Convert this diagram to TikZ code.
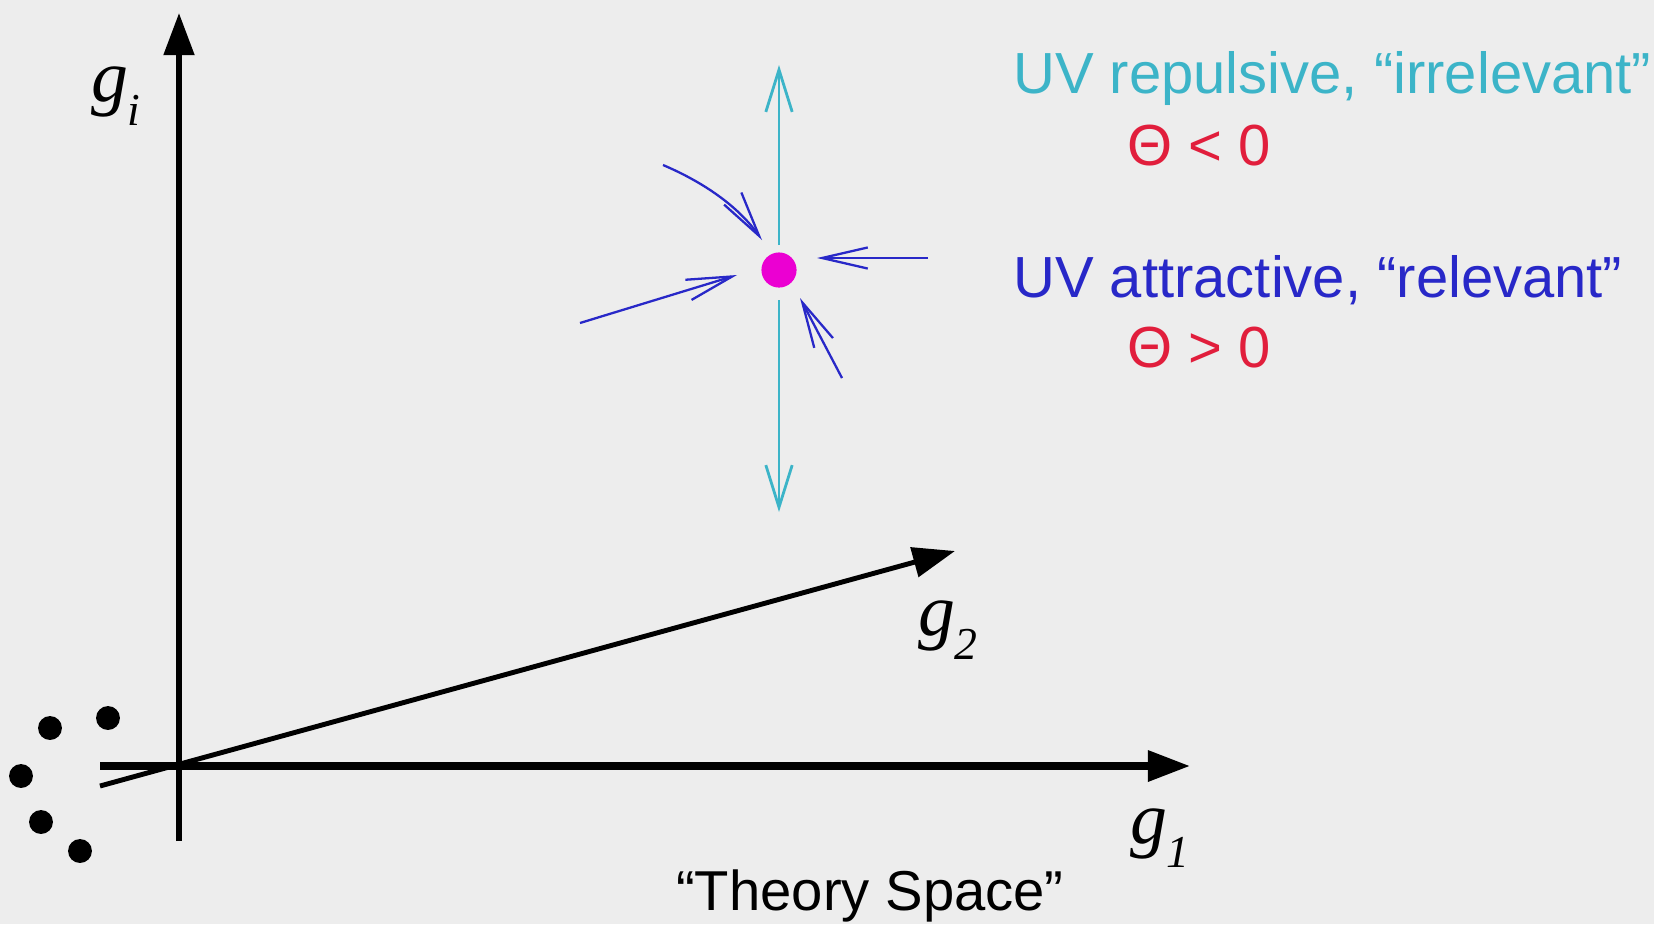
\documentclass[tikz,border=0pt]{standalone}
\usepackage{fontspec}
\setmainfont{Liberation Sans}
\newfontfamily\tms{Liberation Serif}
\usetikzlibrary{arrows.meta,positioning}
\definecolor{bgcol}{RGB}{237,237,237}
\definecolor{uvrep}{RGB}{60,180,200}
\definecolor{uvatt}{RGB}{40,40,200}
\definecolor{thcol}{RGB}{225,30,60}
\definecolor{fpcol}{RGB}{235,0,210}
\newcommand{\coup}[1]{{\tms\itshape g\kern-0.5pt\raisebox{-0.32em}{\fontsize{26}{26}\selectfont #1}}}

\begin{document}
\begin{tikzpicture}[x=0.02cm,y=-0.02cm,
 lbl/.style={font=\fontsize{33}{38}\selectfont,inner sep=0pt,anchor=west},
 glbl/.style={font=\fontsize{42}{46}\selectfont,inner sep=0pt},
 axis/.style={line width=2.8pt,-{Triangle[length=24pt,width=17pt]}},
 rep/.style={uvrep,line width=1.6pt,-{Straight Barb[length=24pt,width=15pt]}},
 att/.style={uvatt,line width=1.3pt,-{Straight Barb[length=26pt,width=12pt]}}]
\fill[bgcol] (0,0) rectangle (1654,924);
% axes
\coordinate (o) at (179,766);
\coordinate (g1l) at (100,766); \coordinate (g1r) at (1190,766);
\coordinate (gib) at (179,841); \coordinate (git) at (179,13);
\coordinate (g2l) at (100,786); \coordinate (g2r) at (955,551);
\draw[axis,line width=4pt] (g1l)--(g1r);
\draw[axis,line width=3.2pt] (gib)--(git);
\draw[axis] (g2l)--(g2r);
\node[glbl] (gi) at (116,96) {\coup{i}};
\node[glbl] (g2) at (948,630) {\coup{2}};
\node[glbl] (g1) at (1160,838) {\coup{1}};
\foreach \x/\y in {50/728,108/718,21/776,41/822,80/851} \fill (\x,\y) circle (6.8pt);
\node[font=\fontsize{32}{36}\selectfont,inner sep=0pt] (ts) at (870,896) {“Theory Space”};
% fixed point and flows
\node[circle,fill=fpcol,minimum size=20pt,inner sep=0pt] (fp) at (779,270) {};
\coordinate (cyt) at (779,65); \coordinate (cyb) at (779,512);
\draw[rep,shorten <=4pt] (fp)--(cyt);
\draw[rep,shorten <=7pt] (fp)--(cyb);
\coordinate (b1) at (663,165); \coordinate (e1) at (762,240);
\coordinate (b2) at (928,258); \coordinate (e2) at (817,258);
\coordinate (b3) at (580,323); \coordinate (e3) at (737,275);
\coordinate (b4) at (842,378); \coordinate (e4) at (800,298);
\draw[att] (b1) .. controls (703,182) and (738,206) .. (e1);
\draw[att] (b2)--(e2);
\draw[att] (b3)--(e3);
\draw[att] (b4)--(e4);
\node[lbl,uvrep] (rep) at (1013,79) {UV repulsive, “irrelevant”};
\node[lbl,thcol] (thn) at (1127,146) {Θ < 0};
\node[lbl,uvatt] (att) at (1013,280) {UV attractive, “relevant”};
\node[lbl,thcol] (thp) at (1127,348) {Θ > 0};
\end{tikzpicture}
\end{document}
